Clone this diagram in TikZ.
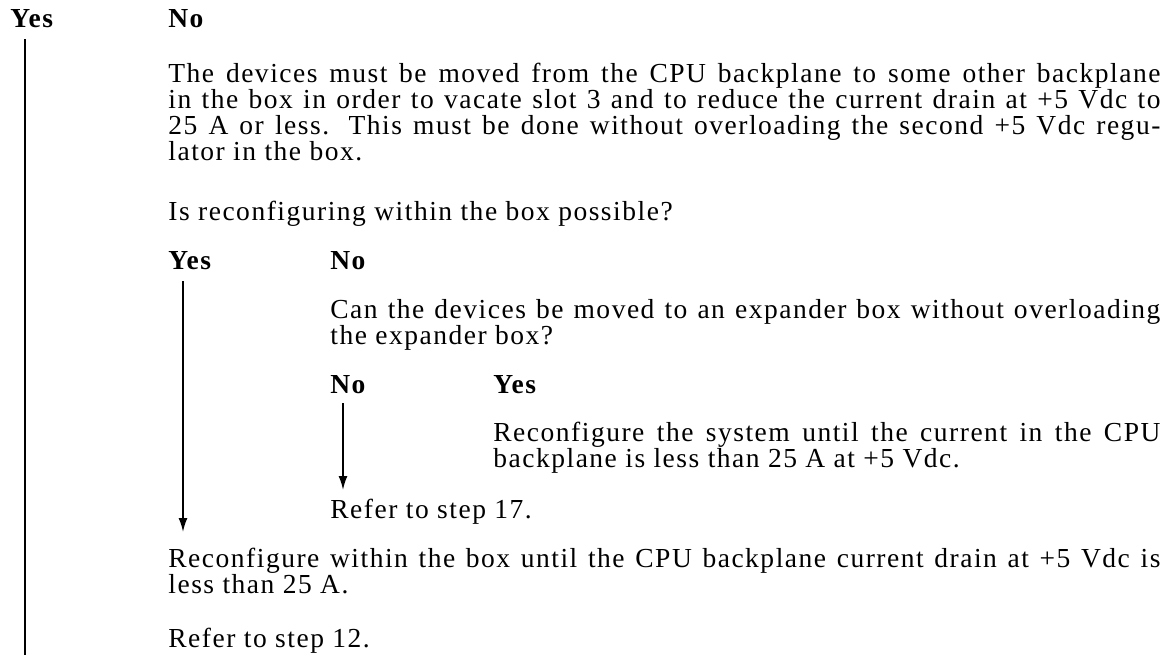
\documentclass[tikz,border=0pt]{standalone}
\usepackage{fontspec}
\setmainfont{Liberation Serif}[LetterSpace=5.5]
\usetikzlibrary{arrows.meta, calc}

\tikzset{
  answer/.style={anchor=base west, inner sep=0pt, font=\fontsize{13.75pt}{13pt}\selectfont\bfseries},
  para/.style={anchor=base west, inner sep=0pt, align=justify, font=\fontsize{13.75pt}{13pt}\selectfont},
  flow/.style={line width=0.9pt},
  flowarrow/.style={flow, -{Latex[length=7pt, width=4.5pt]}}
}

\begin{document}
\begin{tikzpicture}[x=0.5pt, y=-0.5pt]
\useasboundingbox (0,0) rectangle (1174,655);
% first choice
\node[answer] (yesA) at (10,27) {Yes};
\node[answer] (noA) at (168,27) {No};
\node[para, text width=496pt] (moveDev) at (168,82) {The devices must be moved from the CPU backplane to some other backplane\linebreak
in the box in order to vacate slot 3 and to reduce the current drain at +5 Vdc to\linebreak
25 A or less. This must be done without overloading the second +5 Vdc regu-\linebreak
lator in the box.};
\node[para] (askBox) at (168,220) {Is reconfiguring within the box possible?};

% second choice
\node[answer] (yesB) at (168,269) {Yes};
\node[answer] (noB) at (330,269) {No};
\node[para, text width=415pt] (askExp) at (330,318) {Can the devices be moved to an expander box without overloading\linebreak
the expander box?};

% third choice
\node[answer] (noC) at (330,393) {No};
\node[answer] (yesC) at (493,393) {Yes};
\node[para, text width=333.5pt] (reconfSys) at (493,441) {Reconfigure the system until the current in the CPU\linebreak
backplane is less than 25 A at +5 Vdc.};
\node[para] (referA) at (330,518) {Refer to step 17.};

\node[para, text width=496pt] (reconfBox) at (168,567) {Reconfigure within the box until the CPU backplane current drain at +5 Vdc is\linebreak
less than 25 A.};
\node[para] (referB) at (168,647) {Refer to step 12.};

\coordinate (bottomA) at (25,655);
\draw[flow] ($(yesA.base west)+(15,12)$) -- (bottomA);
\draw[flowarrow] ($(yesB.base west)+(15,12)$) -- ($(reconfBox.base west)+(15,-35)$);
\draw[flowarrow] ($(noC.base west)+(13,10)$) -- ($(referA.base west)+(13,-28)$);
\end{tikzpicture}
\end{document}
